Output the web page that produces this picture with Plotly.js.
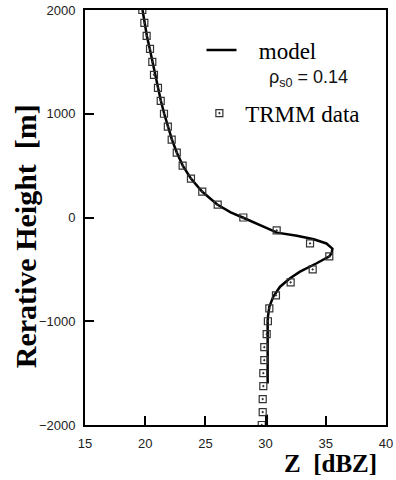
<!DOCTYPE html>
<html>
<head>
<meta charset="utf-8">
<script src="https://cdn.plot.ly/plotly-3.0.1.min.js"></script>
<style>html,body{margin:0;padding:0;background:#fff;}#chart{width:396px;height:480px;}</style>
</head>
<body>
<div id="chart"></div>
<script>
// TRMM data (Z in dBZ, relative height in m)
const trmmHeight = [2000,1875,1750,1625,1500,1375,1250,1125,1000,875,750,625,500,375,250,125,0,-125,-250,-375,-500,-625,-750,-875,-1000,-1125,-1250,-1375,-1500,-1625,-1750,-1875,-2000];
const trmmZ = [19.76,19.93,20.12,20.40,20.59,20.73,21.06,21.29,21.56,21.88,22.20,22.62,23.11,23.80,24.74,26.02,28.15,30.92,33.69,35.29,33.91,32.08,30.86,30.31,30.19,30.09,29.89,29.89,29.81,29.81,29.76,29.76,29.68];

// model curve (rho_s0 = 0.14)
const modelHeight = [2000,1875,1750,1625,1500,1375,1250,1125,1000,875,750,625,500,375,250,125,50,0,-50,-100,-146,-175,-210,-250,-300,-340,-375,-441,-522,-586,-667,-763,-860,-950,-1000,-1600,null,-1900,-2000];
const modelZ = [19.78,19.95,20.14,20.38,20.6,20.8,21.05,21.3,21.58,21.88,22.22,22.63,23.12,23.8,24.72,25.98,27.1,28.1,29.1,30.1,30.95,32.6,34.0,35.05,35.55,35.5,35.3,34.24,32.86,32.03,31.2,30.64,30.31,30.2,30.17,30.17,null,30.1,30.1];

// axis ticks
const xTickVals = [15,20,25,30,35,40];
const yTickVals = [-2000,-1000,0,1000,2000];
const yTickText = ['\u22122000','\u22121000','0','1000','2000'];
const yHalfTickVals = [-1500,-500,500,1500];
const rightTickVals = [-1000,0,1000];
const topTickVals = [30,35];

const tickFont = {family:'Arial, Liberation Sans, sans-serif', size:13, color:'#222'};
const serif = 'Liberation Serif, Times New Roman, serif';

const traces = [
  {x:modelZ, y:modelHeight, type:'scatter', mode:'lines', name:'\u00a0\u00a0\u00a0model',
   line:{color:'#000', width:2.5}, connectgaps:false, legend:'legend'},
  {x:trmmZ, y:trmmHeight, type:'scatter', mode:'markers', name:'\u00a0TRMM data',
   marker:{symbol:'square-open-dot', size:7, color:'#333', line:{width:1.2, color:'#333'}}, legend:'legend2'}
];

const tickOnly = {ticks:'inside', ticklen:9, tickwidth:2, tickcolor:'#000', showticklabels:false,
  showline:false, showgrid:false, zeroline:false};

const layout = {
  width:396, height:480,
  margin:{l:85, r:10, t:10, b:55},
  paper_bgcolor:'#fff', plot_bgcolor:'#fff',
  showlegend:true,
  legend:{x:0.387, xanchor:'left', y:0.9036, yanchor:'middle', bgcolor:'rgba(0,0,0,0)',
    font:{family:serif, size:23, color:'#000'}},
  legend2:{x:0.38, xanchor:'left', y:0.7516, yanchor:'middle', bgcolor:'rgba(0,0,0,0)',
    font:{family:serif, size:23, color:'#000'}},
  xaxis:{range:[15,40], tickvals:xTickVals, ticks:'inside', ticklen:9, tickwidth:2, tickcolor:'#000',
    showline:true, linewidth:2, linecolor:'#000', mirror:true, showgrid:false, zeroline:false,
    tickfont:tickFont, ticklabelstandoff:5},
  yaxis:{range:[-2000,2000], tickvals:yTickVals, ticktext:yTickText, ticks:'inside', ticklen:9, tickwidth:2, tickcolor:'#000',
    showline:true, linewidth:2, linecolor:'#000', mirror:true, showgrid:false, zeroline:false,
    tickfont:tickFont, ticklabelstandoff:5},
  xaxis2:Object.assign({range:[15,40], overlaying:'x', side:'top', anchor:'y', tickvals:topTickVals}, tickOnly),
  yaxis2:Object.assign({range:[-2000,2000], overlaying:'y', side:'right', anchor:'x', tickvals:rightTickVals}, tickOnly),
  yaxis3:Object.assign({range:[-2000,2000], overlaying:'y', side:'left', anchor:'x', tickvals:yHalfTickVals}, tickOnly),
  annotations:[
    {text:'<b>Z\u00a0\u00a0[dBZ]</b>', xref:'paper', yref:'paper', x:0.814, y:-0.0916, xanchor:'center', yanchor:'middle',
     showarrow:false, font:{family:serif, size:25, color:'#000'}},
    {text:'<b>Rerative Height\u00a0\u00a0[m]</b>', xref:'paper', yref:'paper', x:-0.199, y:0.455, xanchor:'center', yanchor:'middle',
     textangle:-90, showarrow:false, font:{family:serif, size:30, color:'#000'}},
    {text:'\u03c1<sub>s0</sub> = 0.14', xref:'paper', yref:'paper', x:0.605, y:0.834, xanchor:'left', yanchor:'middle',
     showarrow:false, font:{family:'Liberation Sans, Arial, sans-serif', size:18, color:'#111'}}
  ]
};

Plotly.newPlot('chart', traces, layout, {displayModeBar:false, staticPlot:true});
</script>
</body>
</html>
